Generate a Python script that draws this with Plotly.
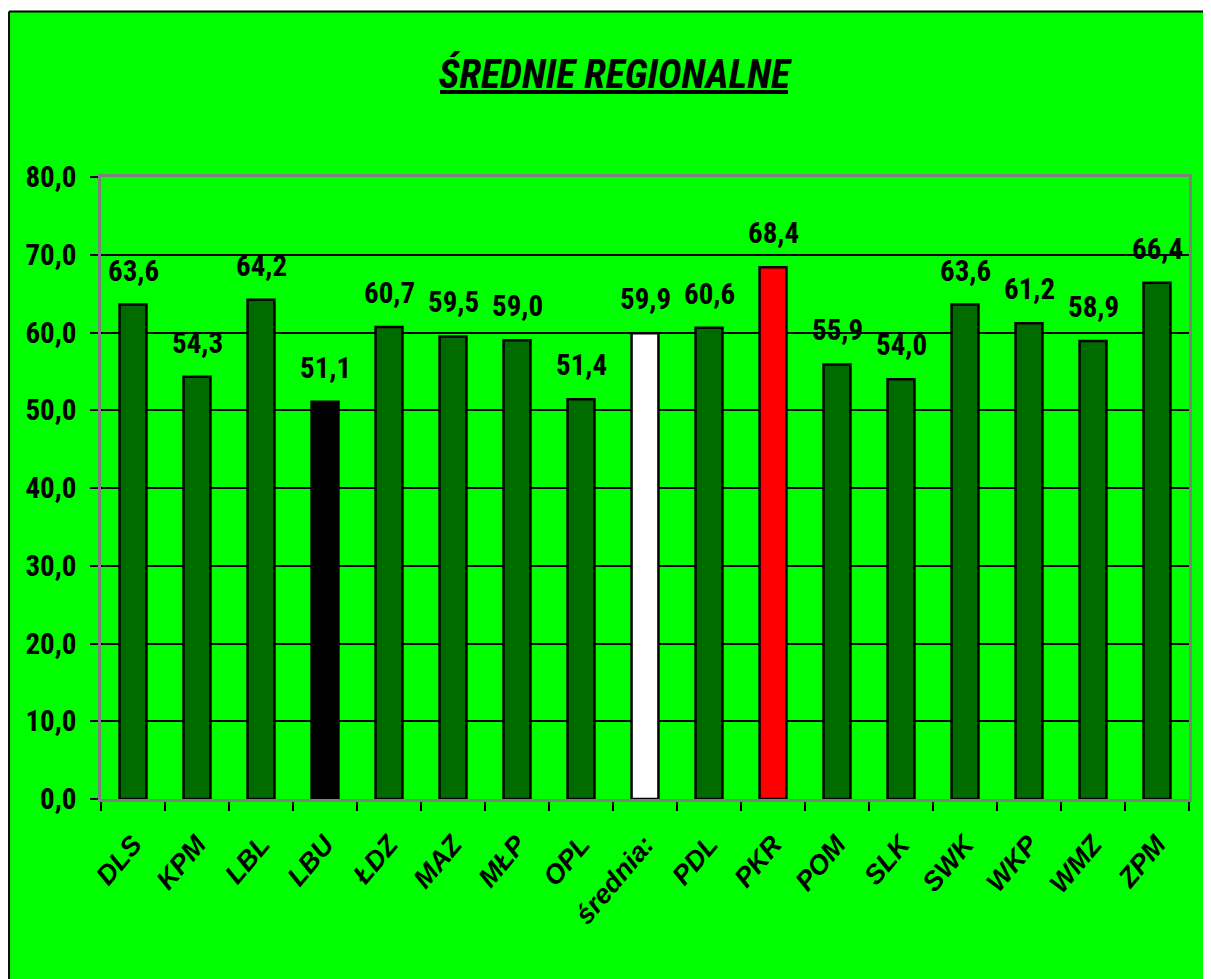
from plotly import graph_objects as go

regions = ['DLS', 'KPM', 'LBL', 'LBU', 'ŁDZ', 'MAZ', 'MŁP', 'OPL', 'średnia:',
           'PDL', 'PKR', 'POM', 'SLK', 'SWK', 'WKP', 'WMZ', 'ZPM']
values = [63.6, 54.3, 64.2, 51.1, 60.7, 59.5, 59.0, 51.4, 59.9,
          60.6, 68.4, 55.9, 54.0, 63.6, 61.2, 58.9, 66.4]

green_bar = '#006C00'
colors = [green_bar] * len(regions)
colors[regions.index('LBU')] = '#000000'
colors[regions.index('średnia:')] = '#FFFFFF'
colors[regions.index('PKR')] = '#FF0000'

narrow = 'Roboto Condensed, Liberation Sans Narrow, sans-serif'

fig = go.Figure()

fig.add_trace(
    go.Bar(
        x = regions,
        y = values,
        marker = dict(
            color = colors,
            line = dict(color = 'black', width = 2.5)
        ),
        width = 0.42,
        hoverinfo = 'x+y'
    )
)

for r, v in zip(regions, values):
    fig.add_annotation(
        x = r, y = v,
        text = '<b>%s</b>' % ('%.1f' % v).replace('.', ','),
        showarrow = False,
        yanchor = 'bottom',
        yshift = 15,
        font = dict(family = narrow, size = 29, color = 'black')
    )

# green chart area, framed on the left and top
fig.add_shape(
    type = 'rect', xref = 'paper', yref = 'paper', layer = 'below',
    x0 = -0.0845, x1 = 1.2, y0 = -0.5, y1 = 1.266,
    fillcolor = '#00FF00', line = dict(width = 0)
)
fig.add_shape(
    type = 'line', xref = 'paper', yref = 'paper',
    x0 = -0.0845, x1 = -0.0845, y0 = -0.5, y1 = 1.266,
    line = dict(color = 'black', width = 2)
)
fig.add_shape(
    type = 'line', xref = 'paper', yref = 'paper',
    x0 = -0.0845, x1 = 1.2, y0 = 1.266, y1 = 1.266,
    line = dict(color = 'black', width = 2)
)
# thick underline of the title
fig.add_shape(
    type = 'line', xref = 'paper', yref = 'paper',
    x0 = 0.3116, x1 = 0.6314, y0 = 1.1367, y1 = 1.1367,
    line = dict(color = 'black', width = 4)
)

fig.update_layout(
    width = 1203, height = 971,
    margin = dict(l = 93, r = 22, t = 169, b = 180),
    paper_bgcolor = 'white',
    plot_bgcolor = '#00FF00',
    separators = ', ',
    showlegend = False,
    title = dict(
        text = '<b><i>ŚREDNIE REGIONALNE</i></b>',
        x = 0.504, xanchor = 'center',
        y = 0.932, yanchor = 'middle',
        font = dict(family = narrow, size = 40, color = 'black')
    )
)

fig.update_yaxes(
    range = [0, 80],
    dtick = 10,
    tickformat = '.1f',
    showgrid = True, gridcolor = 'black', gridwidth = 2,
    zeroline = False,
    showline = True, linecolor = '#808080', linewidth = 2.5, mirror = True,
    ticks = 'outside', ticklen = 8, tickcolor = 'black', tickwidth = 1.5,
    ticklabelstandoff = 8,
    tickfont = dict(family = narrow, size = 29, color = 'black', weight = 'bold')
)

fig.update_xaxes(
    tickangle = -50,
    showline = True, linecolor = '#808080', linewidth = 2.5, mirror = True,
    ticks = 'outside', ticklen = 9, tickcolor = 'black', tickwidth = 1.5,
    tickson = 'boundaries',
    ticklabelstandoff = 16,
    tickfont = dict(family = 'Liberation Sans, Arial, sans-serif', size = 27,
                    color = 'black', weight = 'bold', style = 'italic')
)

fig.write_html('out.html')
